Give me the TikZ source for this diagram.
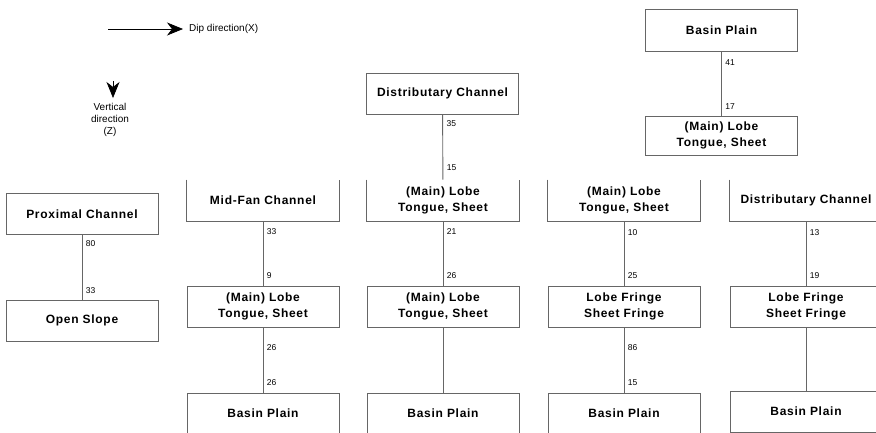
\documentclass[tikz,border=0pt]{standalone}
\usepackage{fontspec}
\setmainfont{Liberation Sans}
\newfontfamily\boxfont[LetterSpace=6]{Liberation Sans}
\usetikzlibrary{arrows.meta}

\tikzset{
  frame/.style={draw=black!60, line width=0.9pt},
  stage/.style={frame, rectangle, minimum width=152pt, minimum height=41pt,
    inner sep=0pt, align=center,
    font=\boxfont\bfseries\fontsize{12}{16.5}\selectfont},
  openstage/.style={stage, draw=none},
  link/.style={draw=black!60, line width=0.9pt},
  num/.style={font=\fontsize{8.5}{9}\selectfont, inner sep=0pt, anchor=west, xshift=3.5pt},
  legend/.style={font=\fontsize{10}{12}\selectfont, inner sep=0pt, align=center},
  dirarrow/.style={draw=black, line width=0.7pt,
    -{Stealth[length=16pt, width=13pt, inset=5pt]}},
}

\begin{document}
\begin{tikzpicture}[x=1pt, y=-1pt]
\useasboundingbox (0,0) rectangle (876,432);
\clip (0,0) rectangle (876,432);

% axis legend
\coordinate (dipstart) at (108,29);
\coordinate (diptip) at (183,29);
\node[legend, anchor=west] (dip) at (189,29) {Dip direction(X)};
\draw[dirarrow] (dipstart) -- (diptip);

\coordinate (vtop) at (113,81);
\coordinate (vtip) at (113,98);
\draw[dirarrow] (vtop) -- (vtip);
\node[legend] (vert) at (110,120) {Vertical\\direction\\(Z)};

% column 1
\node[stage] (prox) at (82,214) {Proximal Channel};
\node[stage] (open) at (82,320.5) {Open Slope};
\draw[link] (prox) -- (open)
  node[num, pos=0, yshift=-9pt] {80}
  node[num, pos=1, yshift=9pt] {33};

% column 2
\node[openstage] (mid) at (263,200.5) {Mid-Fan Channel};
\node[stage] (lobe2) at (263,306.5) {(Main) Lobe\\Tongue, Sheet};
\node[stage] (basin2) at (263,413.5) {Basin Plain};
\draw[frame] (mid.north west) -- (mid.south west) -- (mid.south east) -- (mid.north east);
\draw[link] (mid) -- (lobe2)
  node[num, pos=0, yshift=-10pt] {33}
  node[num, pos=1, yshift=10pt] {9};
\draw[link] (lobe2) -- (basin2)
  node[num, pos=0, yshift=-20pt] {26}
  node[num, pos=1, yshift=10pt] {26};

% column 3
\node[stage] (dist3) at (442.5,93.5) {Distributary Channel};
\node[openstage] (lobe3a) at (443,200.5) {(Main) Lobe\\Tongue, Sheet};
\node[stage] (lobe3b) at (443,306.5) {(Main) Lobe\\Tongue, Sheet};
\node[stage] (basin3) at (443,413.5) {Basin Plain};
\draw[frame] (lobe3a.north west) -- (lobe3a.south west) -- (lobe3a.south east) -- (lobe3a.north east);
\draw[link] (dist3) -- (lobe3a)
  node[num, pos=0, yshift=-9pt] {35}
  node[num, pos=1, yshift=12pt] {15};
\draw[link] (lobe3a) -- (lobe3b)
  node[num, pos=0, yshift=-10pt] {21}
  node[num, pos=1, yshift=10pt] {26};
\draw[link] (lobe3b) -- (basin3);

% column 4
\node[openstage] (lobe4) at (624,200.5) {(Main) Lobe\\Tongue, Sheet};
\node[stage] (fringe4) at (624,306.5) {Lobe Fringe\\Sheet Fringe};
\node[stage] (basin4) at (624,413.5) {Basin Plain};
\draw[frame] (lobe4.north west) -- (lobe4.south west) -- (lobe4.south east) -- (lobe4.north east);
\draw[link] (lobe4) -- (fringe4)
  node[num, pos=0, yshift=-11pt] {10}
  node[num, pos=1, yshift=10pt] {25};
\draw[link] (fringe4) -- (basin4)
  node[num, pos=0, yshift=-20pt] {86}
  node[num, pos=1, yshift=10pt] {15};

% column 5
\node[openstage] (dist5) at (806,200.5) {Distributary Channel};
\node[stage] (fringe5) at (806,306.5) {Lobe Fringe\\Sheet Fringe};
\node[stage] (basin5) at (806,411.5) {Basin Plain};
\draw[frame] (dist5.north west) -- (dist5.south west) -- (dist5.south east) -- (dist5.north east);
\draw[link] (dist5) -- (fringe5)
  node[num, pos=0, yshift=-11pt] {13}
  node[num, pos=1, yshift=10pt] {19};
\draw[link] (fringe5) -- (basin5);

% upper right pair
\node[stage, minimum height=42pt] (basintop) at (721.5,30) {Basin Plain};
\node[stage, minimum height=39pt] (lobetop) at (721.5,135.5) {(Main) Lobe\\Tongue, Sheet};
\draw[link] (basintop) -- (lobetop)
  node[num, pos=0, yshift=-11pt] {41}
  node[num, pos=1, yshift=9pt] {17};
\end{tikzpicture}
\end{document}
